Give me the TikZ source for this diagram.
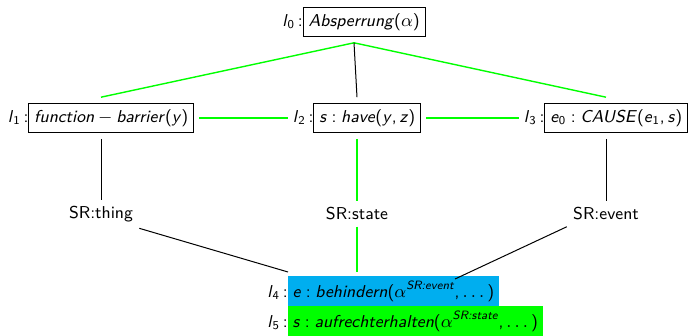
\documentclass[tikz,border=0pt]{standalone}
\usepackage{amsmath}
\usetikzlibrary{calc}
\definecolor{lgreen}{RGB}{0,255,0}
\definecolor{lblue}{RGB}{0,174,239}
\setlength{\fboxsep}{2.4pt}
\setlength{\fboxrule}{0.5pt}
\newcommand{\stru}{\rule[-2.7pt]{0pt}{9.6pt}}
\newcommand{\bx}[1]{\fbox{\stru#1}}
\newcommand{\cbx}[2]{\colorbox{#1}{\stru#2}}
\newcommand{\lab}[1]{\textit{l}$_{\mathsf{#1}}$\,:}
\newcommand{\cln}{\hspace{0.27em}:\hspace{0.27em}}
\newcommand{\cma}{,\hspace{0.17em}}
\tikzset{
  fnt/.style={font=\sffamily\fontsize{8.6}{10.5}\selectfont},
  wrap/.style={fnt, inner sep=2.5pt},
  srnode/.style={fnt, inner sep=3pt},
  bline/.style={draw=black, line width=0.5pt},
  gline/.style={draw=lgreen, line width=0.7pt},
}
\begin{document}
\begin{tikzpicture}[x=0.5pt,y=-0.5pt]
\useasboundingbox (0,0) rectangle (690,336);
% nodes
\node[wrap] (n0) at (354,22) {\lab{0}\bx{\textit{Absperrung}($\alpha$)}};
\node[wrap] (n1) at (101,118) {\lab{1}\bx{\textit{function}\hspace{0.22em}$-$\hspace{0.22em}\textit{barrier}(\textit{y})}};
\node[wrap] (n2) at (357,118) {\lab{2}\bx{\textit{s}\cln\textit{have}(\textit{y}\cma\textit{z})}};
\node[wrap] (n3) at (606,118) {\lab{3}\bx{\textit{e}$_{\mathsf{0}}$\cln\textit{CAUSE}(\textit{e}$_{\mathsf{1}}$\cma\textit{s})}};
\node[srnode] (s1) at (101,214) {SR:thing};
\node[srnode] (s2) at (357,214) {SR:state};
\node[srnode] (s3) at (606,214) {SR:event};
\node[wrap, anchor=west, inner sep=0pt] (n4) at (267,292) {\lab{4}\cbx{lblue}{\textit{e}\cln\textit{behindern}($\alpha^{\textit{SR:event}}$\cma$\dots$)}};
\node[wrap, anchor=west, inner sep=0pt] (n5) at (267,322) {\lab{5}\cbx{lgreen}{\textit{s}\cln\textit{aufrechterhalten}($\alpha^{\textit{SR:state}}$\cma$\dots$)}};
\coordinate (a4) at (288,272);
\coordinate (b4) at (455,279);
% connectors
\draw[gline] (n0.south) -- (n1.north);
\draw[gline] (n0.south) -- (n3.north);
\draw[bline] (n0.south) -- (n2.north);
\draw[gline] (n1.east) -- (n2.west);
\draw[gline] (n2.east) -- (n3.west);
\draw[bline] (n1.south) -- (s1.north);
\draw[gline] (n2.south) -- (s2.north);
\draw[bline] (n3.south) -- (s3.north);
\draw[bline] (s1.south east) -- (a4);
\draw[gline] (s2.south) -- (s2.south |- a4);
\draw[bline] (s3.south west) -- (b4);
\end{tikzpicture}
\end{document}
